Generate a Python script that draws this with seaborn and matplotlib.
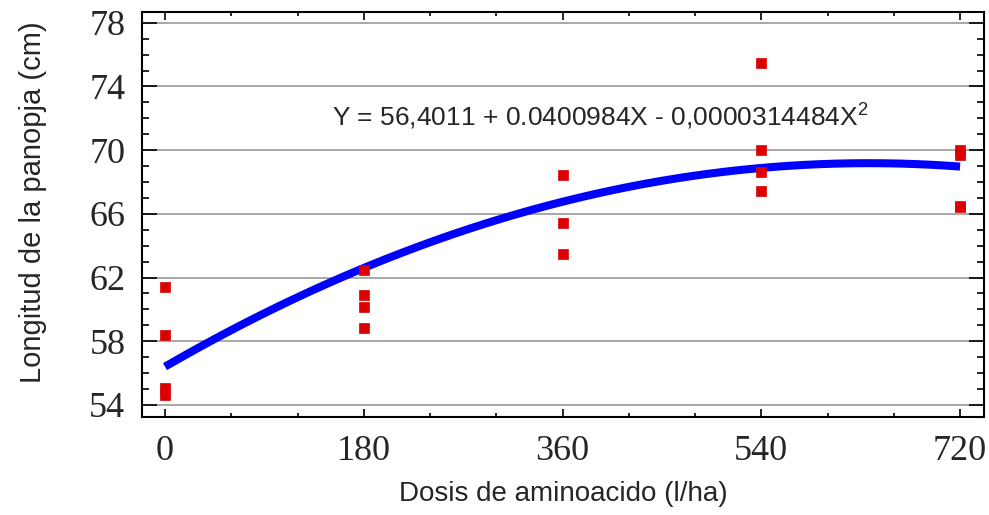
import numpy as np
import pandas as pd
import matplotlib
matplotlib.use("Agg")
import matplotlib.pyplot as plt
from matplotlib.ticker import MultipleLocator
import seaborn as sns

dosis = [0, 0, 0, 0,
         180, 180, 180, 180,
         360, 360, 360,
         540, 540, 540, 540,
         720, 720, 720, 720]
longitud = [61.4, 58.4, 55.05, 54.6,
            62.5, 60.9, 60.15, 58.8,
            68.45, 65.45, 63.5,
            75.45, 70.0, 68.65, 67.45,
            70.0, 69.7, 66.5, 66.4]
x_ticks = [0, 180, 360, 540, 720]
y_ticks = [54, 58, 62, 66, 70, 74, 78]
# coefficients printed on the chart (c2, c1, c0)
coef = [-0.0000314484, 0.0400984, 56.4011]
ecuacion = "Y = 56,4011 + 0.0400984X - 0,0000314484X$^2$"

df = pd.DataFrame({"dosis": dosis, "longitud": longitud})
x_fit = np.linspace(0, 720, 200)
fit = pd.DataFrame({"dosis": x_fit, "longitud": np.polyval(coef, x_fit)})

sns.set_style("ticks")
plt.rcParams["font.family"] = ["Liberation Sans", "DejaVu Sans"]
plt.rcParams["mathtext.fontset"] = "custom"
plt.rcParams["mathtext.rm"] = "Liberation Sans"

fig = plt.figure(figsize=(9.89, 5.15), dpi=100)
ax = fig.add_axes([0.1436, 0.191, 0.8514, 0.786])

ax.grid(axis="y", color="#999999", linewidth=1.2)
ax.set_axisbelow(True)

sns.lineplot(data=fit, x="dosis", y="longitud", ax=ax, color="#0000ff",
             linewidth=5.8, solid_capstyle="butt", zorder=3)

sns.scatterplot(data=df, x="dosis", y="longitud", ax=ax, marker="s",
                s=48, color="#dd0000", edgecolor="#dd0000", linewidth=0.5,
                zorder=4)

ax.set_xlim(-20.8, 741.7)
ax.set_ylim(53.26, 78.69)
ax.set_xticks(x_ticks)
ax.set_yticks(y_ticks)
ax.xaxis.set_minor_locator(MultipleLocator(60))
ax.yaxis.set_minor_locator(MultipleLocator(1))

for side in ["top", "right", "bottom", "left"]:
    ax.spines[side].set_visible(True)
    ax.spines[side].set_color("black")
    ax.spines[side].set_linewidth(1.5)

ax.tick_params(axis="both", which="both", direction="in",
               top=True, right=True, color="black", width=1.2)
ax.tick_params(axis="x", which="major", length=6, pad=13)
ax.tick_params(axis="x", which="minor", length=3)
ax.tick_params(axis="y", which="major", length=11, pad=12)
ax.tick_params(axis="y", which="minor", length=5)

for lab in ax.get_xticklabels() + ax.get_yticklabels():
    lab.set_fontfamily("Liberation Serif")
    lab.set_fontsize(26)

ax.set_xlabel("Dosis de aminoacido (l/ha)", fontsize=20)
ax.set_ylabel("Longitud de la panopja (cm)", fontsize=21)
ax.xaxis.set_label_coords(0.5, -0.16)
ax.yaxis.set_label_coords(-0.113, 0.531)

ax.text(151, 72.2, ecuacion, fontsize=19, va="center", ha="left")

fig.savefig("out.png", dpi=100)
